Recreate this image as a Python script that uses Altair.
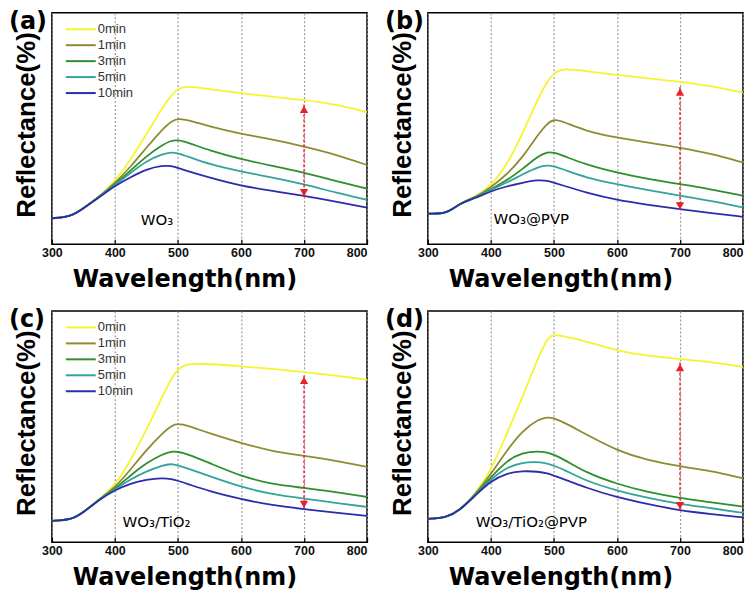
import altair as alt
import pandas as pd

WL = [300, 330, 350, 375, 400, 425, 450, 475, 490, 500, 515, 550, 600, 650, 700, 750, 800]
SERIES = ["0min", "1min", "3min", "5min", "10min"]
COLORS = ["#f6f42e", "#8e8c30", "#2e8f2e", "#33a39c", "#2c2cab"]

# Panel (a) WO3
A_0 = [11.2, 11.8, 15.5, 20.6, 27.0, 36.5, 47.5, 59.0, 64.5, 67.3, 68.4, 67.0, 65.2, 63.7, 62.3, 60.4, 57.1]
A_1 = [11.2, 11.8, 15.5, 20.5, 26.3, 33.5, 41.7, 49.6, 53.2, 54.3, 53.8, 50.8, 47.6, 45.3, 42.2, 38.8, 34.2]
A_3 = [11.2, 11.8, 15.5, 20.4, 25.9, 31.8, 38.1, 42.9, 44.9, 45.0, 44.0, 40.5, 36.7, 33.8, 30.9, 27.3, 24.0]
A_5 = [11.2, 11.8, 15.5, 20.3, 25.6, 30.8, 36.0, 38.9, 39.8, 39.3, 38.0, 34.5, 31.4, 28.8, 25.9, 22.3, 19.1]
A_10 = [11.2, 11.8, 15.5, 20.2, 25.2, 29.0, 32.4, 34.0, 33.8, 33.0, 31.6, 28.8, 25.2, 23.0, 20.9, 18.4, 15.8]

# Panel (b) WO3@PVP
B_0 = [13.2, 13.0, 17.6, 20.3, 25.2, 34.0, 47.5, 63.3, 70.5, 74.1, 76.0, 74.8, 73.1, 71.7, 70.2, 68.3, 65.5]
B_1 = [13.2, 13.0, 17.6, 20.2, 24.5, 30.0, 37.4, 47.5, 52.3, 54.0, 53.0, 48.9, 46.0, 43.9, 41.7, 39.1, 35.3]
B_3 = [13.2, 13.0, 17.6, 20.1, 23.7, 27.5, 32.4, 38.1, 39.9, 39.6, 38.2, 34.5, 30.9, 28.1, 25.9, 23.7, 20.9]
B_5 = [13.2, 13.0, 17.6, 20.0, 23.5, 26.5, 30.2, 33.4, 34.1, 33.6, 32.3, 28.8, 25.9, 23.3, 20.9, 18.7, 15.8]
B_10 = [13.2, 13.0, 17.6, 19.9, 22.9, 25.0, 26.6, 27.8, 27.4, 26.6, 25.3, 22.3, 19.0, 17.0, 15.1, 13.4, 11.8]

# Panel (c) WO3/TiO2
C_0 = [9.3, 9.6, 12.9, 18.8, 24.3, 35.5, 48.6, 62.9, 71.0, 75.0, 77.3, 77.1, 76.1, 75.0, 73.6, 72.1, 70.3]
C_1 = [9.3, 9.6, 12.9, 18.7, 23.6, 31.5, 40.0, 47.1, 50.5, 51.4, 50.5, 47.1, 42.9, 39.3, 37.4, 35.3, 32.6]
C_3 = [9.3, 9.6, 12.9, 18.6, 23.1, 29.0, 34.3, 38.1, 39.3, 39.2, 38.2, 34.3, 28.6, 25.0, 23.6, 21.7, 19.6]
C_5 = [9.3, 9.6, 12.9, 18.5, 22.9, 27.3, 30.7, 33.3, 34.0, 33.2, 32.0, 28.6, 23.9, 20.7, 18.9, 17.1, 15.3]
C_10 = [9.3, 9.6, 12.9, 18.4, 22.6, 25.5, 27.1, 27.9, 27.4, 26.6, 25.3, 22.1, 18.6, 16.0, 14.3, 12.9, 11.4]

# Panel (d) WO3/TiO2@PVP
D_0 = [10.1, 10.8, 13.7, 20.8, 30.9, 46.8, 62.6, 79.9, 88.5, 90.0, 89.0, 87.1, 82.7, 80.6, 79.1, 78.0, 75.8]
D_1 = [10.1, 10.8, 13.7, 20.6, 29.5, 39.6, 48.2, 53.2, 54.2, 53.6, 52.0, 46.8, 39.6, 35.3, 32.8, 30.9, 27.7]
D_3 = [10.1, 10.8, 13.7, 20.4, 28.1, 35.3, 38.8, 39.4, 38.8, 37.8, 36.0, 30.2, 25.2, 21.6, 19.1, 17.3, 15.4]
D_5 = [10.1, 10.8, 13.7, 20.3, 27.3, 32.4, 34.6, 34.8, 34.0, 33.1, 31.6, 26.6, 22.3, 19.1, 16.5, 14.8, 12.7]
D_10 = [10.1, 10.8, 13.7, 20.2, 26.6, 29.9, 30.9, 30.6, 29.8, 28.8, 27.4, 23.7, 19.4, 16.5, 13.7, 12.2, 10.8]

PANEL_IDS = ["(a)", "(b)", "(c)", "(d)"]
PANEL_CURVES = [
    [A_0, A_1, A_3, A_5, A_10],
    [B_0, B_1, B_3, B_5, B_10],
    [C_0, C_1, C_3, C_5, C_10],
    [D_0, D_1, D_3, D_5, D_10],
]
SAMPLE_NAMES = ["WO₃", "WO₃@PVP", "WO₃/TiO₂", "WO₃/TiO₂@PVP"]
SAMPLE_X = [441, 404, 412, 376]
SAMPLE_Y = [10.4, 10.8, 9.0, 8.6]
ARROW_X = [700, 700, 700, 700]
ARROW_TOP = [60.4, 67.9, 72.1, 77.7]
ARROW_BOTTOM = [20.1, 14.4, 14.3, 13.7]

FONT = "Liberation Sans"
WIDE = "DejaVu Sans"
W, H = 316, 232


def panel(i):
    rows = []
    for s, vals in zip(SERIES, PANEL_CURVES[i]):
        for x, v in zip(WL, vals):
            rows.append({"wl": x, "r": v, "series": s})
    df = pd.DataFrame(rows)

    xenc = alt.X(
        "wl:Q",
        scale=alt.Scale(domain=[300, 800], nice=False, zero=False),
        axis=alt.Axis(
            title="Wavelength(nm)",
            values=list(range(300, 801, 50)),
            labelExpr="datum.value % 100 === 0 ? datum.label : ''",
            grid=True,
            gridColor=alt.ExprRef("datum.value % 100 === 0 ? '#8a8a8a' : '#dedede'"),
            gridDash=[2, 2],
            gridWidth=1,
            tickSize=alt.ExprRef("datum.value % 100 === 0 ? -5 : -4"),
            tickColor="#000000",
            tickWidth=1.2,
            domain=False,
            labelFont=FONT,
            labelFontSize=12.5,
            labelFontWeight="bold",
            labelColor="#111111",
            labelPadding=7,
            labelFlush=False,
            labelAlign=alt.ExprRef("datum.value === 800 ? 'right' : 'center'"),
            titleFont=WIDE,
            titleFontSize=24,
            titleFontWeight="bold",
            titleColor="#000000",
            titlePadding=9,
            titleX=133,
        ),
    )
    yenc = alt.Y(
        "r:Q",
        scale=alt.Scale(domain=[0, 100], nice=False),
        axis=alt.Axis(
            title="Reflectance(%)",
            labels=False,
            ticks=False,
            domain=False,
            grid=False,
            titleFont=FONT,
            titleFontSize=26,
            titleFontWeight="bold",
            titleColor="#000000",
            titlePadding=12,
            titleY=112,
        ),
    )

    lines = alt.Chart(df).mark_line(strokeWidth=1.8, interpolate="basis").encode(
        x=xenc,
        y=yenc,
        color=alt.Color(
            "series:N",
            sort=SERIES,
            scale=alt.Scale(domain=SERIES, range=COLORS),
            legend=alt.Legend(
                title=None,
                orient="none",
                legendX=22.5,
                legendY=10,
                symbolType="M-5,0H5",
                symbolSize=36,
                symbolStrokeWidth=2,
                labelFont=FONT,
                labelFontSize=13,
                labelColor="#333333",
                labelOffset=10.5,
                rowPadding=2,
                padding=0,
            ),
        ),
        order=alt.Order("order:Q"),
    ).transform_calculate(order="indexof(['10min','5min','3min','1min','0min'], datum.series)")

    adf = pd.DataFrame({"x": [ARROW_X[i]], "top": [ARROW_TOP[i]], "bot": [ARROW_BOTTOM[i]]})
    arrow = alt.Chart(adf).mark_rule(color="#e8202a", strokeWidth=1.3, strokeDash=[3, 2]).encode(
        x="x:Q", y="top:Q", y2="bot:Q"
    )
    head_up = alt.Chart(adf).mark_point(
        shape="triangle-up", filled=True, color="#e8202a", size=70, opacity=1, yOffset=5
    ).encode(x="x:Q", y="top:Q")
    head_dn = alt.Chart(adf).mark_point(
        shape="triangle-down", filled=True, color="#e8202a", size=70, opacity=1, yOffset=-5
    ).encode(x="x:Q", y="bot:Q")

    sdf = pd.DataFrame({"x": [SAMPLE_X[i]], "y": [SAMPLE_Y[i]], "t": [SAMPLE_NAMES[i]]})
    sample = alt.Chart(sdf).mark_text(
        align="left", baseline="middle", font=WIDE, fontSize=15, color="#000000"
    ).encode(x="x:Q", y="y:Q", text="t:N")

    ldf = pd.DataFrame({"t": [PANEL_IDS[i]]})
    plabel = alt.Chart(ldf).mark_text(
        align="left", baseline="middle", font=WIDE, fontSize=24, fontWeight="bold", color="#000000"
    ).encode(x=alt.value(-43), y=alt.value(9), text="t:N")

    return alt.layer(lines, arrow, head_up, head_dn, sample, plabel).properties(width=W, height=H)


row1 = alt.hconcat(panel(0), panel(1), spacing=12)
row2 = alt.hconcat(panel(2), panel(3), spacing=12)
chart = (
    alt.vconcat(row1, row2, spacing=14)
    .resolve_legend(color="independent")
    .resolve_scale(color="independent")
    .configure(padding=0)
    .configure_view(stroke="#000000", strokeWidth=1.5)
)

chart.save("out.html", embed_options={"renderer": "svg", "actions": False})
